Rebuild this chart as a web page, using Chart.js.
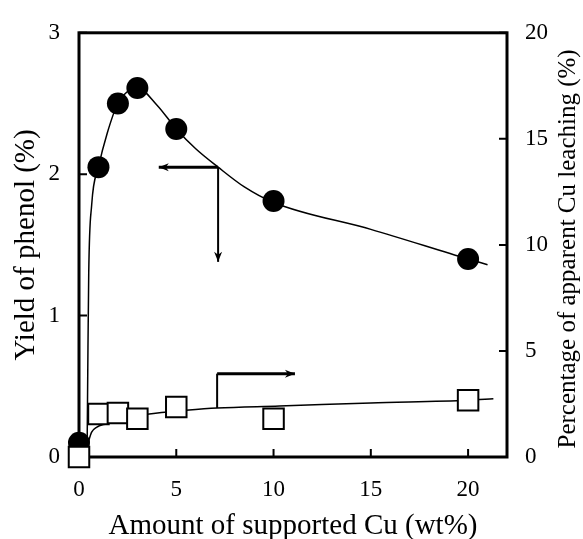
<!DOCTYPE html>
<html>
<head>
<meta charset="utf-8">
<script src="https://cdn.jsdelivr.net/npm/chart.js@4.4.0/dist/chart.umd.min.js"></script>
<style>
  html, body { margin: 0; padding: 0; background: #fff; }
</style>
</head>
<body>
<canvas id="chart" width="583" height="539"></canvas>
<script>
// Cu loading (wt%) and measured values
const cuLoading = [0, 1, 2, 3, 5, 10, 20];
const phenolYield = [0.1, 2.05, 2.5, 2.61, 2.32, 1.81, 1.4];     // %, left axis
const cuLeaching = [0, 2.03, 2.08, 1.8, 2.36, 1.8, 2.68];        // %, right axis

// hand-drawn trend curves
const yieldFitX = [0.42, 0.45, 0.5, 0.65, 1, 1.45, 2, 3, 4, 5, 6, 7.15, 8.5, 10, 15, 20, 21];
const yieldFitY = [0.1, 0.6, 1.3, 1.78, 2.05, 2.29, 2.5, 2.61, 2.49, 2.32, 2.18, 2.05, 1.91, 1.8, 1.61, 1.4, 1.36];
const leachFitX = [0.46, 0.65, 0.9, 1.4, 2.45, 3.5, 5.5, 7.1, 10.3, 15, 20, 21.3];
const leachFitY = [0.65, 1.17, 1.4, 1.57, 1.87, 2.02, 2.2, 2.31, 2.4, 2.55, 2.68, 2.75];

// axis ticks
const xTicks = [0, 5, 10, 15, 20];
const yieldTicks = [0, 1, 2, 3];
const leachTicks = [0, 5, 10, 15, 20];

// pointer arrows: [x, y] corners in data units
const yieldArrow = { from: [4.1, 2.05], corner: [7.15, 2.05], to: [7.15, 1.38] };
const leachArrow = { from: [7.1, 2.31], corner: [7.1, 3.93], to: [11.1, 3.93] };

const rightTitle = 'Percentage of apparent Cu leaching (%)';
const serif = 'Liberation Serif';

const pts = (xs, ys) => xs.map((x, i) => ({ x: x, y: ys[i] }));

function fixTicks(list) {
    return scale => { scale.ticks = list.map(v => ({ value: v })); };
}

function arrowHead(ctx, x, y, dx, dy) {
    // small filled head pointing along (dx, dy)
    const len = 10, half = 4;
    const px = -dy, py = dx;
    ctx.beginPath();
    ctx.moveTo(x, y);
    ctx.lineTo(x - dx * len + px * half, y - dy * len + py * half);
    ctx.lineTo(x - dx * len * 0.7, y - dy * len * 0.7);
    ctx.lineTo(x - dx * len - px * half, y - dy * len - py * half);
    ctx.closePath();
    ctx.fill();
}

const framePlugin = {
    id: 'frame',
    beforeDatasetsDraw(chart) {
        const { ctx, chartArea: a, scales } = chart;
        ctx.save();
        ctx.strokeStyle = '#000';
        ctx.lineWidth = 3;
        ctx.strokeRect(a.left, a.top, a.right - a.left, a.bottom - a.top);

        // tick marks point into the plot
        ctx.lineWidth = 2;
        ctx.beginPath();
        xTicks.forEach(v => {
            const px = scales.x.getPixelForValue(v);
            ctx.moveTo(px, a.bottom);
            ctx.lineTo(px, a.bottom - 8);
        });
        yieldTicks.forEach(v => {
            const py = scales.y.getPixelForValue(v);
            ctx.moveTo(a.left, py);
            ctx.lineTo(a.left + 8, py);
        });
        leachTicks.forEach(v => {
            const py = scales.y1.getPixelForValue(v);
            ctx.moveTo(a.right, py);
            ctx.lineTo(a.right - 8, py);
        });
        ctx.stroke();
        ctx.restore();
    },
    afterDraw(chart) {
        const { ctx, chartArea: a } = chart;
        ctx.save();
        ctx.fillStyle = '#000';
        ctx.font = '25px "' + serif + '"';
        ctx.textAlign = 'center';
        ctx.textBaseline = 'middle';
        ctx.translate(568, (a.top + a.bottom) / 2 + 4);
        ctx.rotate(-Math.PI / 2);
        ctx.fillText(rightTitle, 0, 0);
        ctx.restore();
    }
};

const arrowPlugin = {
    id: 'arrows',
    afterDatasetsDraw(chart) {
        const { ctx, scales } = chart;
        const draw = (arr, yScale, wFirst, wSecond) => {
            const p = c => [scales.x.getPixelForValue(c[0]), yScale.getPixelForValue(c[1])];
            const f = p(arr.from), c = p(arr.corner), t = p(arr.to);
            ctx.save();
            ctx.strokeStyle = '#000';
            ctx.fillStyle = '#000';
            ctx.lineWidth = wFirst;
            ctx.beginPath();
            ctx.moveTo(f[0], f[1]);
            ctx.lineTo(c[0], c[1]);
            ctx.stroke();
            ctx.lineWidth = wSecond;
            ctx.beginPath();
            ctx.moveTo(c[0], c[1]);
            ctx.lineTo(t[0], t[1]);
            ctx.stroke();
            return { f, c, t };
        };
        // yield arrow: head on the left end, another at the bottom
        let r = draw(yieldArrow, scales.y, 3, 2);
        arrowHead(ctx, r.f[0], r.f[1], -1, 0);
        arrowHead(ctx, r.t[0], r.t[1], 0, 1);
        ctx.restore();
        // leaching arrow: up from the curve, then right
        r = draw(leachArrow, scales.y1, 2, 3);
        arrowHead(ctx, r.t[0], r.t[1], 1, 0);
        ctx.restore();
    }
};

const tickFont = { family: serif, size: 23 };
const noGrid = { display: false, drawTicks: false };

new Chart(document.getElementById('chart'), {
    type: 'scatter',
    data: {
        datasets: [
            {
                label: 'Cu leaching',
                data: pts(cuLoading, cuLeaching),
                yAxisID: 'y1',
                pointStyle: 'rect',
                pointRadius: 14.5,
                pointBackgroundColor: '#fff',
                pointBorderColor: '#000',
                pointBorderWidth: 2,
                showLine: false,
                clip: false,
                order: 0
            },
            {
                label: 'Yield of phenol',
                data: pts(cuLoading, phenolYield),
                yAxisID: 'y',
                pointStyle: 'circle',
                pointRadius: 11,
                pointBackgroundColor: '#000',
                pointBorderColor: '#000',
                pointBorderWidth: 0,
                showLine: false,
                clip: false,
                order: 1
            },
            {
                label: 'yield fit',
                data: pts(yieldFitX, yieldFitY),
                yAxisID: 'y',
                showLine: true,
                pointRadius: 0,
                borderColor: '#000',
                borderWidth: 1.5,
                cubicInterpolationMode: 'monotone',
                order: 2
            },
            {
                label: 'leaching fit',
                data: pts(leachFitX, leachFitY),
                yAxisID: 'y1',
                showLine: true,
                pointRadius: 0,
                borderColor: '#000',
                borderWidth: 1.5,
                cubicInterpolationMode: 'monotone',
                order: 2
            }
        ]
    },
    options: {
        responsive: false,
        animation: false,
        layout: { padding: { top: 24, left: 0, right: 0, bottom: 0 } },
        plugins: {
            legend: { display: false },
            tooltip: { enabled: false }
        },
        scales: {
            x: {
                type: 'linear',
                min: 0,
                max: 22,
                afterBuildTicks: fixTicks(xTicks),
                afterFit: s => { s.height = 82; },
                grid: noGrid,
                border: { display: false },
                ticks: { color: '#000', padding: 19, font: tickFont },
                title: {
                    display: true,
                    text: 'Amount of supported Cu (wt%)',
                    color: '#000',
                    font: { family: serif, size: 29, lineHeight: 1 },
                    padding: { top: 0, bottom: -2 }
                }
            },
            y: {
                position: 'left',
                min: 0,
                max: 3,
                afterBuildTicks: fixTicks(yieldTicks),
                afterFit: s => { s.width = 79; },
                grid: noGrid,
                border: { display: false },
                ticks: { color: '#000', padding: 19, font: tickFont },
                title: {
                    display: true,
                    text: 'Yield of phenol (%)',
                    color: '#000',
                    font: { family: serif, size: 29, lineHeight: 1 },
                    padding: { top: 11.5, bottom: 0 }
                }
            },
            y1: {
                position: 'right',
                min: 0,
                max: 20,
                afterBuildTicks: fixTicks(leachTicks),
                afterFit: s => { s.width = 76; },
                grid: noGrid,
                border: { display: false },
                ticks: { color: '#000', padding: 18, font: tickFont }
            }
        }
    },
    plugins: [framePlugin, arrowPlugin]
});
</script>
</body>
</html>
